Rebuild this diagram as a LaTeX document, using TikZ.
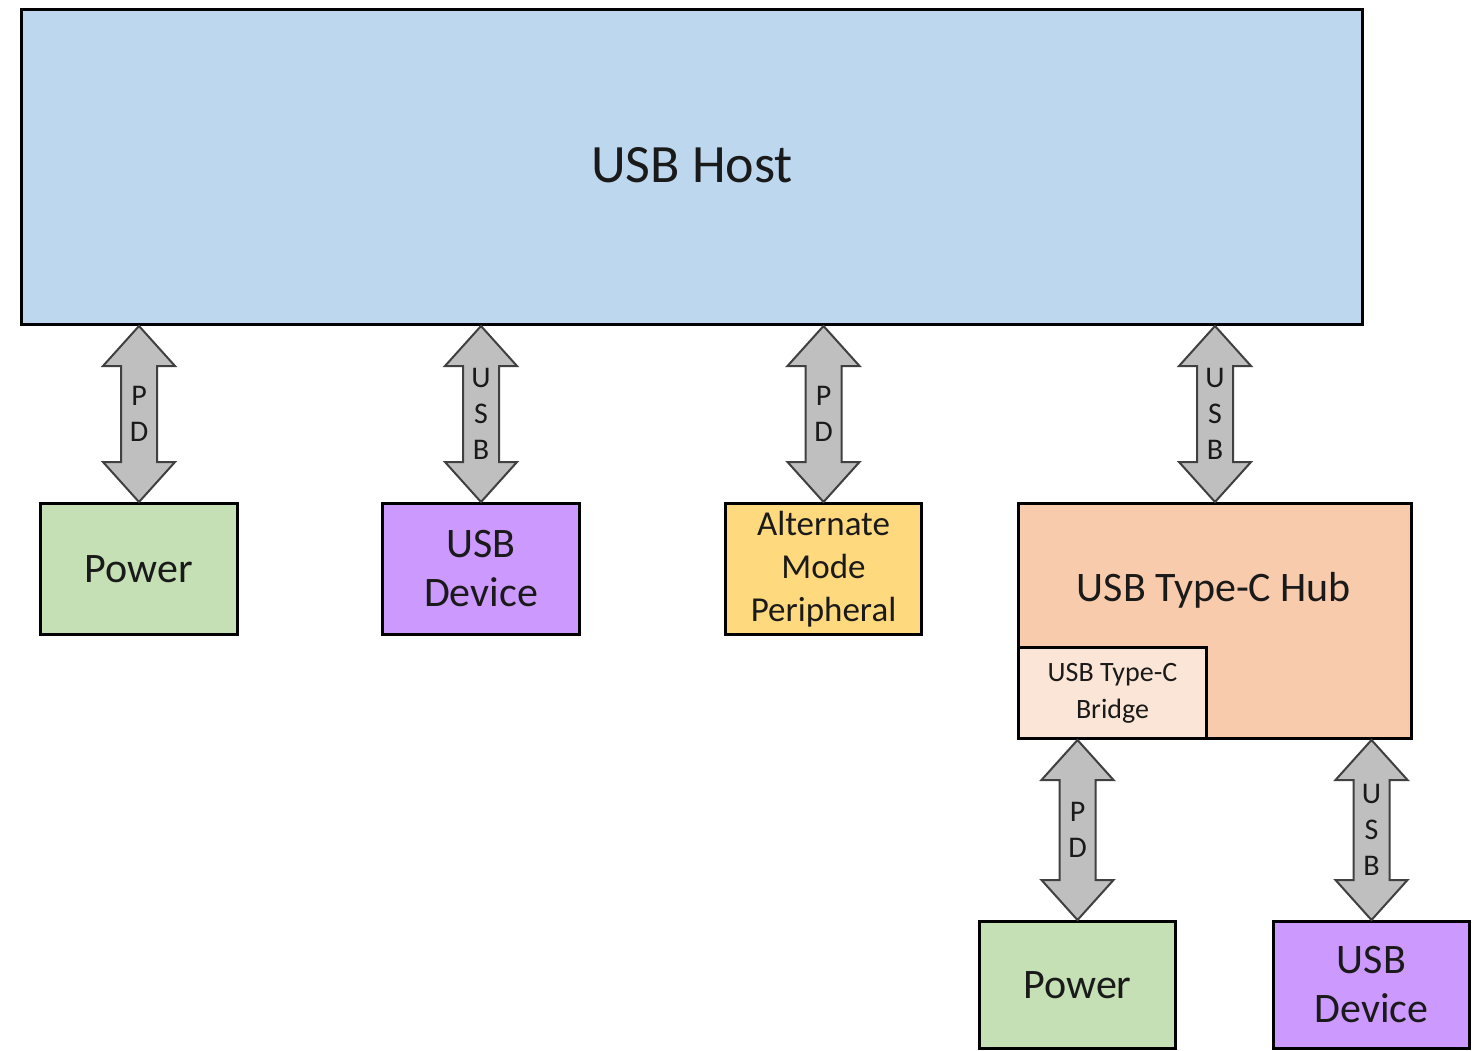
\documentclass[tikz,border=0pt]{standalone}
\usepackage{fontspec}
\setmainfont{Carlito}
\usetikzlibrary{calc}

\definecolor{hostblue}{HTML}{BDD7EE}
\definecolor{powergreen}{HTML}{C5E0B4}
\definecolor{devpurple}{HTML}{CC99FF}
\definecolor{altyellow}{HTML}{FFD97D}
\definecolor{hubpeach}{HTML}{F8CBAD}
\definecolor{bridgepeach}{HTML}{FBE5D6}
\definecolor{arrowgray}{HTML}{BFBFBF}
\definecolor{arrowedge}{HTML}{404040}
\definecolor{inktext}{HTML}{1A1A1A}

\tikzset{
  box/.style={draw=black, line width=3pt, rectangle, inner sep=0pt,
    align=center, text=inktext, anchor=north west},
  bigtext/.style={font=\fontsize{42}{49}\selectfont},
  barrow/.style={draw=arrowedge, fill=arrowgray, line width=2pt, line join=miter},
  alabel/.style={font=\fontsize{30}{36}\selectfont, align=center, text=inktext, inner sep=0pt},
}

% double-headed block arrow between two points, with a stacked label
\newcommand\blockarrow[3]{%
  \draw[barrow] (#1) -- ++(36,40) -- ++(-18,0) -- ($(#2)+(18,-40)$) -- ++(18,0)
    -- (#2) -- ++(-36,-40) -- ++(18,0) -- ($(#1)+(-18,40)$) -- ++(-18,0) -- cycle;
  \node[alabel] at ($(#1)!0.5!(#2)$) {#3};
}

\begin{document}
\begin{tikzpicture}[x=1pt, y=-1pt]
\useasboundingbox (0,0) rectangle (1476,1051);
\fill[white] (0,0) rectangle (1476,1051);

% host
\node[box, fill=hostblue, minimum width=1341pt, minimum height=315pt] (host) at (20,8) {};
\node[text=inktext, font=\fontsize{54}{60}\selectfont] (hostlabel) at (692,165) {USB Host};

% first row
\node[box, bigtext, fill=powergreen, minimum width=197pt, minimum height=131pt] (pw1) at (39,502) {Power};
\node[box, bigtext, fill=devpurple, minimum width=197pt, minimum height=131pt] (dev1) at (381,502) {USB\\Device};
\node[box, fill=altyellow, minimum width=196pt, minimum height=131pt,
  font=\fontsize{35}{43}\selectfont] (alt) at (724,502) {Alternate\\Mode\\Peripheral};
\node[box, fill=hubpeach, minimum width=393pt, minimum height=235pt] (hub) at (1017,502) {};
\node[text=inktext, bigtext] (hublabel) at (1214,590) {USB Type-C Hub};
\node[box, fill=bridgepeach, minimum width=188pt, minimum height=91pt,
  font=\fontsize{28}{37}\selectfont, anchor=south west] (bridge) at (hub.south west) {USB Type-C\\Bridge};

% second row
\node[box, bigtext, fill=powergreen, minimum width=196pt, minimum height=127pt] (pw2) at (978,920) {Power};
\node[box, bigtext, fill=devpurple, minimum width=196pt, minimum height=127pt] (dev2) at (1272,920) {USB\\Device};

% arrow end points
\coordinate (a1t) at (host.south -| pw1.north);
\coordinate (a2t) at (host.south -| dev1.north);
\coordinate (a3t) at (host.south -| alt.north);
\coordinate (a4t) at (host.south -| hub.north);
\coordinate (a5t) at (hub.south -| pw2.north);
\coordinate (a6t) at (hub.south -| dev2.north);

\blockarrow{a1t}{pw1.north}{P\\D}
\blockarrow{a2t}{dev1.north}{U\\S\\B}
\blockarrow{a3t}{alt.north}{P\\D}
\blockarrow{a4t}{hub.north}{U\\S\\B}
\blockarrow{a5t}{pw2.north}{P\\D}
\blockarrow{a6t}{dev2.north}{U\\S\\B}
\end{tikzpicture}
\end{document}
